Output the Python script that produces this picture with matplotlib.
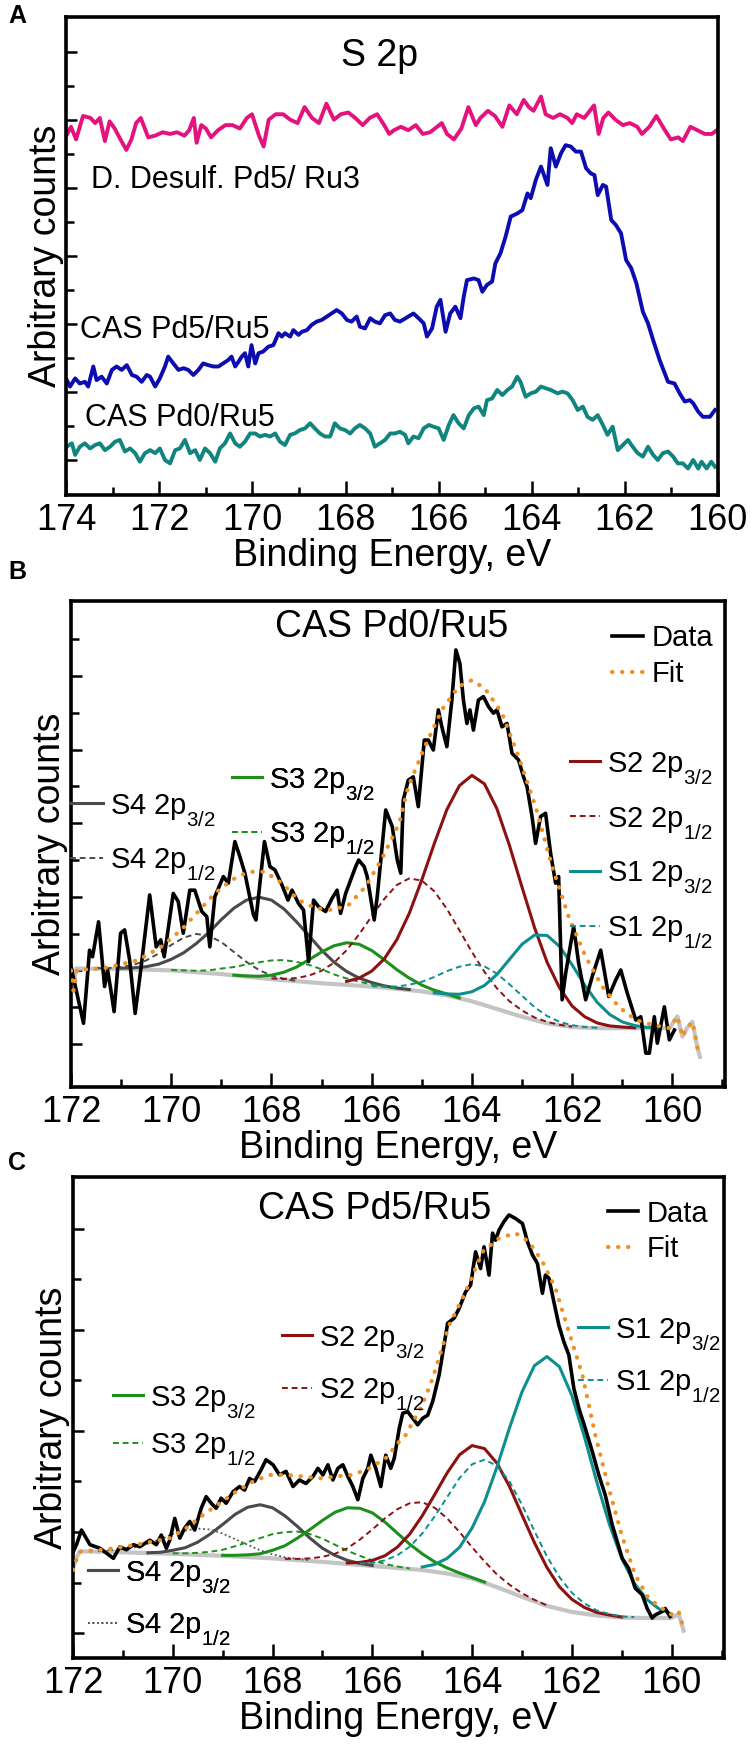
# S 2p XPS panels (A: survey of three samples, B/C: peak fits)
import numpy as np
import matplotlib
matplotlib.use("Agg")
import matplotlib.pyplot as plt
from matplotlib.ticker import MultipleLocator, FixedLocator

plt.rcParams['font.family'] = ['Liberation Sans', 'DejaVu Sans']
plt.rcParams['mathtext.fontset'] = 'custom'
plt.rcParams['mathtext.rm'] = 'Liberation Sans'
plt.rcParams['mathtext.default'] = 'regular'

# subscripts in the original sit lower than mathtext puts them
try:
    import matplotlib._mathtext as _mt
    _mt.FontConstantsBase.sub1 = 0.75
    _mt.FontConstantsBase.subdrop = 0.75
except Exception:
    pass

# ---------------- panel A data (binding energy, counts in tick units) ----------------
pink_e = [174.0, 173.9, 173.79, 173.64, 173.48, 173.38, 173.28, 173.17, 173.07, 172.96,
          172.86, 172.71, 172.60, 172.50, 172.40, 172.24, 172.09, 171.93, 171.77, 171.62,
          171.46, 171.36, 171.26, 171.20, 171.10, 171.00, 170.89, 170.74, 170.58, 170.43,
          170.27, 170.12, 170.01, 169.86, 169.76, 169.65, 169.50, 169.34, 169.19, 169.03,
          168.88, 168.72, 168.57, 168.41, 168.25, 168.10, 167.94, 167.79, 167.63, 167.48,
          167.32, 167.17, 167.06, 166.96, 166.81, 166.65, 166.49, 166.34, 166.18, 166.08,
          165.93, 165.82, 165.67, 165.51, 165.36, 165.20, 165.10, 164.94, 164.79, 164.63,
          164.48, 164.32, 164.17, 164.06, 163.96, 163.80, 163.70, 163.54, 163.39, 163.23,
          163.13, 163.03, 162.87, 162.66, 162.56, 162.46, 162.35, 162.20, 162.04, 161.89,
          161.73, 161.63, 161.47, 161.32, 161.16, 161.01, 160.85, 160.75, 160.59, 160.44,
          160.28, 160.13, 160.02]
pink_y = [9.54, 9.80, 9.43, 10.12, 10.06, 9.91, 10.06, 9.38, 9.96, 9.75,
          9.49, 9.12, 9.43, 9.91, 10.06, 9.49, 9.54, 9.64, 9.59, 9.64,
          9.54, 9.70, 10.06, 9.33, 9.85, 9.75, 9.49, 9.70, 9.85, 9.85,
          9.75, 10.06, 10.17, 9.54, 9.22, 10.01, 10.17, 10.17, 10.01, 9.91,
          10.38, 10.06, 9.91, 10.48, 10.01, 10.17, 10.22, 10.06, 9.85, 10.06,
          10.17, 9.85, 9.59, 9.70, 9.80, 9.70, 9.85, 9.59, 9.64, 9.75,
          9.91, 9.59, 9.43, 9.75, 10.38, 9.85, 10.06, 10.27, 10.12, 9.80,
          10.43, 10.17, 10.59, 10.38, 10.27, 10.69, 10.17, 10.06, 10.17, 10.06,
          9.91, 10.17, 10.06, 10.43, 9.59, 10.06, 10.22, 10.01, 9.85, 9.91,
          9.80, 9.59, 9.80, 10.12, 9.75, 9.43, 9.49, 9.38, 9.80, 9.70,
          9.59, 9.59, 9.70]

blue_e = [173.99, 173.92, 173.81, 173.71, 173.60, 173.53, 173.42, 173.35, 173.24, 173.13,
          173.02, 172.92, 172.81, 172.70, 172.59, 172.49, 172.38, 172.27, 172.20, 172.09,
          171.99, 171.88, 171.81, 171.70, 171.59, 171.48, 171.38, 171.27, 171.16, 171.06,
          170.95, 170.84, 170.73, 170.63, 170.52, 170.45, 170.37, 170.30, 170.23, 170.16,
          170.09, 170.02, 169.94, 169.87, 169.77, 169.66, 169.55, 169.44, 169.37, 169.30,
          169.19, 169.12, 169.01, 168.94, 168.83, 168.73, 168.62, 168.51, 168.40, 168.30,
          168.19, 168.08, 167.97, 167.87, 167.76, 167.69, 167.58, 167.47, 167.37, 167.26,
          167.15, 167.04, 166.94, 166.83,
          166.65, 166.54, 166.43, 166.32, 166.25, 166.14, 166.04, 165.96, 165.85, 165.75,
          165.64, 165.53, 165.46, 165.39, 165.24, 165.14, 165.06, 164.96, 164.85, 164.78,
          164.67, 164.56, 164.45, 164.31, 164.20, 164.09, 164.02, 163.91, 163.80, 163.66,
          163.59, 163.48, 163.37, 163.27, 163.16, 163.05, 162.94, 162.83, 162.73, 162.65,
          162.58, 162.47, 162.40, 162.29, 162.19, 162.08, 161.97, 161.86, 161.75, 161.61,
          161.50, 161.39, 161.25, 161.14, 161.07, 160.93, 160.82, 160.71, 160.60, 160.53,
          160.42, 160.32, 160.17, 160.06]
blue_y = [2.35, 2.16, 2.40, 2.25, 2.30, 2.16, 2.75, 2.35, 2.45, 2.25,
          2.65, 2.75, 2.65, 2.79, 2.50, 2.45, 2.30, 2.50, 2.45, 2.16,
          2.40, 2.75, 3.04, 2.84, 2.65, 2.70, 2.65, 2.50, 2.65, 2.84,
          2.79, 2.75, 2.75, 2.84, 2.94, 3.04, 2.75, 2.89, 3.04, 3.14,
          2.75, 3.38, 2.84, 3.14, 3.19, 3.33, 3.38, 3.73, 3.63, 3.73,
          3.63, 3.82, 3.68, 3.77, 3.82, 3.97, 4.07, 4.12, 4.22, 4.31,
          4.41, 4.31, 4.12, 4.07, 4.22, 3.92, 3.87, 4.17, 4.07, 4.02,
          4.26, 4.31, 4.12, 4.07,
          4.22, 4.31, 4.17, 4.02, 3.63, 3.87, 4.51, 4.71, 3.77, 4.31,
          4.51, 4.17, 4.80, 5.29, 5.34, 5.29, 4.95, 5.15, 5.25, 5.78,
          6.08, 6.57, 7.16, 7.25, 7.35, 7.84, 7.70, 8.24, 8.63, 8.09,
          9.17, 8.63, 9.02, 9.26, 9.22, 9.07, 9.07, 8.58, 8.43, 8.38,
          7.79, 8.09, 8.04, 7.06, 6.91, 6.67, 5.88, 5.64, 5.20, 4.36,
          4.02, 3.53, 2.94, 2.55, 2.30, 2.25, 1.96, 1.72, 1.76, 1.67,
          1.42, 1.27, 1.27, 1.47]

teal_e = [173.99, 173.88, 173.81, 173.71, 173.60, 173.49, 173.38, 173.28, 173.17, 173.06,
          172.95, 172.85, 172.74, 172.63, 172.52, 172.42, 172.31, 172.20, 172.09, 171.99,
          171.88, 171.77, 171.66, 171.56, 171.45, 171.34, 171.23, 171.13, 171.02, 170.91,
          170.80, 170.70, 170.59, 170.48, 170.37, 170.27, 170.16, 170.05, 169.94, 169.84,
          169.73, 169.62, 169.51, 169.41, 169.30, 169.19, 169.09, 168.98, 168.87, 168.76,
          168.66, 168.55, 168.44, 168.33, 168.23, 168.12, 168.01, 167.90, 167.80, 167.69,
          167.58, 167.47, 167.37, 167.26, 167.15, 167.04, 166.94, 166.83, 166.72,
          166.65, 166.54, 166.43, 166.32, 166.21, 166.11, 166.00, 165.89, 165.78, 165.68,
          165.57, 165.46, 165.35, 165.24, 165.14, 165.03, 164.96, 164.85, 164.74, 164.63,
          164.52, 164.42, 164.31, 164.24, 164.13, 164.02, 163.91, 163.80, 163.70, 163.59,
          163.44, 163.34, 163.23, 163.12, 163.01, 162.90, 162.80, 162.69, 162.58, 162.47,
          162.37, 162.26, 162.15, 162.04, 161.93, 161.83, 161.72, 161.61, 161.50, 161.39,
          161.29, 161.18, 161.07, 160.96, 160.86, 160.75, 160.64, 160.53, 160.42, 160.35,
          160.24, 160.14, 160.06]
teal_y = [0.39, 0.49, 0.15, 0.39, 0.49, 0.34, 0.44, 0.49, 0.29, 0.39,
          0.54, 0.59, 0.25, 0.34, 0.20, -0.05, 0.20, 0.29, 0.20, 0.34,
          0.00, -0.10, 0.29, 0.34, 0.59, 0.20, 0.29, 0.00, 0.34, 0.20,
          -0.05, 0.34, 0.49, 0.78, 0.49, 0.39, 0.54, 0.78, 0.78, 0.69,
          0.74, 0.69, 0.78, 0.54, 0.44, 0.74, 0.78, 0.88, 0.93, 1.08,
          0.93, 0.78, 0.69, 0.69, 1.08, 0.93, 0.88, 0.78, 0.93, 1.03,
          0.93, 0.78, 0.39, 0.49, 0.59, 0.78, 0.78, 0.83, 0.74,
          0.49, 0.69, 0.64, 0.93, 1.03, 0.98, 0.93, 0.59, 1.03, 1.32,
          1.08, 0.93, 1.32, 1.52, 1.57, 1.32, 1.76, 1.81, 2.06, 1.91,
          2.06, 2.16, 2.45, 2.30, 1.86, 1.96, 2.01, 2.16, 2.11, 2.06,
          1.96, 2.01, 1.96, 1.76, 1.47, 1.57, 1.27, 1.18, 1.32, 1.03,
          0.74, 0.98, 0.29, 0.44, 0.59, 0.39, 0.20, 0.10, 0.39, 0.15,
          0.00, 0.20, 0.25, 0.10, -0.10, -0.10, -0.25, 0.00, -0.25, -0.05,
          -0.25, -0.05, -0.20]

# ---------------- panel B (CAS Pd0/Ru5) ----------------
data_b_e = [172.00, 171.75, 171.63, 171.57, 171.45, 171.33, 171.27, 171.21, 171.14, 171.01,
            170.93, 170.83, 170.72, 170.60, 170.43, 170.30, 170.21, 170.14, 169.96, 169.86,
            169.76, 169.63, 169.53, 169.39, 169.29, 169.23, 169.13, 168.96, 168.86, 168.73,
            168.63, 168.53, 168.36, 168.31, 168.14, 168.03, 167.93, 167.79, 167.67, 167.59,
            167.46, 167.36, 167.26, 167.16, 167.06, 166.92, 166.79, 166.69, 166.62, 166.52,
            166.32, 166.26, 166.15, 166.09, 165.95, 165.89, 165.72, 165.59, 165.49, 165.42,
            165.37, 165.27, 165.17, 165.07, 164.95, 164.87, 164.77, 164.67, 164.60, 164.50,
            164.40, 164.32, 164.24, 164.17, 164.10, 164.04, 163.97, 163.87, 163.77, 163.67,
            163.57, 163.50, 163.40, 163.30, 163.20, 163.07, 162.97, 162.90, 162.80, 162.73,
            162.63, 162.53, 162.43, 162.33, 162.27, 162.20, 162.13, 161.97, 161.87, 161.73,
            161.60, 161.43, 161.27, 161.13, 161.03, 160.90, 160.73, 160.63, 160.53, 160.46,
            160.36, 160.30, 160.16, 160.06, 159.96]
data_b_y = [2.10, 0.56, 2.55, 2.37, 3.32, 1.56, 2.01, 1.51, 0.88, 3.01,
            3.10, 2.28, 0.83, 2.10, 4.05, 2.64, 2.83, 2.37, 4.09, 3.87,
            3.01, 4.18, 4.18, 3.60, 3.46, 2.64, 4.00, 4.55, 4.37, 5.50,
            5.09, 4.64, 3.51, 3.37, 5.50, 4.82, 4.73, 4.32, 3.91, 4.18,
            3.82, 3.64, 2.24, 3.91, 3.73, 3.60, 3.96, 4.18, 3.55, 4.09,
            4.82, 5.00, 4.82, 4.55, 3.37, 4.00, 6.36, 5.91, 5.00, 4.64,
            6.63, 7.17, 7.26, 6.45, 8.26, 8.26, 7.99, 9.08, 8.62, 8.08,
            9.35, 10.71, 10.34, 9.35, 8.71, 9.08, 8.53, 9.35, 9.44, 9.17,
            8.99, 9.08, 8.62, 8.71, 7.90, 7.72, 7.26, 6.99, 6.18, 5.45,
            6.18, 6.27, 5.18, 4.37, 4.55, 1.20, 1.92, 3.19, 2.19, 1.20,
            1.83, 2.55, 1.29, 1.74, 2.01, 1.38, 0.65, 0.74, -0.25, -0.25,
            0.74, 0.02, 1.01, 0.11, 0.38]

fit_b_e = [172.0, 171.95, 171.88, 171.33, 170.66, 170.2, 169.8, 169.46, 169.13, 168.79,
           168.46, 168.13, 167.79, 167.46, 167.12, 166.79, 166.46, 166.12, 165.79, 165.45,
           165.27, 164.94, 164.6, 164.27, 164.0, 163.74, 163.4, 163.07, 162.73, 162.4,
           162.07, 161.73, 161.4, 161.07, 160.73, 160.4, 160.06, 159.9, 159.8, 159.7,
           159.6, 159.5, 159.45]
fit_b_y = [2.0, 1.45, 2.01, 2.06, 2.28, 2.64, 3.10, 3.60, 4.09, 4.46,
           4.68, 4.68, 4.37, 3.91, 3.69, 3.64, 3.78, 4.28, 5.05, 6.00,
           6.99, 8.08, 9.08, 9.71, 9.89, 9.66, 8.99, 7.81, 6.45, 4.82,
           3.46, 2.37, 1.56, 1.01, 0.65, 0.52, 0.43, 0.75, 0.20, 0.45,
           0.60, -0.10, -0.35]

bg_b_e = [172.0, 171.95, 171.9, 171.0, 170.0, 169.0, 168.0, 167.0, 166.0, 165.5,
          165.0, 164.5, 164.0, 163.5, 163.0, 162.5, 162.0, 161.5, 161.0, 160.5,
          160.06, 159.9, 159.8, 159.7, 159.6, 159.5, 159.45]
bg_b_y = [2.0, 1.45, 2.05, 2.04, 2.0, 1.9, 1.76, 1.65, 1.56, 1.5,
          1.43, 1.32, 1.16, 0.95, 0.74, 0.56, 0.46, 0.43, 0.43, 0.43,
          0.43, 0.75, 0.20, 0.45, 0.60, -0.10, -0.35]

# background on the 0.25 eV component grid (172 -> 160)
base_b = [2.06, 2.05, 2.05, 2.04, 2.04, 2.03, 2.02, 2.01, 2.00, 1.98,
          1.95, 1.92, 1.90, 1.86, 1.83, 1.79, 1.76, 1.73, 1.70, 1.68,
          1.65, 1.62, 1.60, 1.58, 1.56, 1.53, 1.50, 1.47, 1.43, 1.38,
          1.32, 1.24, 1.16, 1.06, 0.95, 0.84, 0.74, 0.64, 0.56, 0.50,
          0.46, 0.44, 0.43, 0.43, 0.43, 0.43, 0.43, 0.43, 0.43]

# component heights above background, first value at the given energy, 0.25 eV steps
s1_32_b_start, s1_32_b = 164.75, [0.01, 0.04, 0.11, 0.26, 0.53, 0.94, 1.46, 1.97, 2.32, 2.39,
                                  2.15, 1.69, 1.16, 0.70, 0.37, 0.17, 0.07, 0.02, 0.01]
s1_12_b_start, s1_12_b = 166.0, [0.01, 0.03, 0.06, 0.14, 0.26, 0.44, 0.66, 0.86, 1.01, 1.05,
                                 0.96, 0.78, 0.57, 0.36, 0.20, 0.10, 0.05, 0.02, 0.01]
s2_32_b_start, s2_32_b = 166.5, [0.10, 0.21, 0.42, 0.78, 1.33, 2.08, 3.03, 4.07, 5.05, 5.78,
                                 6.14, 6.01, 5.44, 4.55, 3.52, 2.52, 1.66, 1.02, 0.57, 0.30,
                                 0.14, 0.06, 0.03, 0.01]
s2_12_b_start, s2_12_b = 168.0, [0.02, 0.04, 0.09, 0.18, 0.34, 0.59, 0.95, 1.40, 1.91, 2.41,
                                 2.82, 3.03, 3.01, 2.77, 2.35, 1.85, 1.34, 0.90, 0.56, 0.32,
                                 0.17, 0.08, 0.04, 0.02, 0.01]
s3_32_b_start, s3_32_b = 168.75, [0.01, 0.02, 0.05, 0.11, 0.22, 0.39, 0.61, 0.85, 1.05, 1.15,
                                  1.13, 0.98, 0.76, 0.52, 0.32, 0.17, 0.08, 0.04, 0.01]
s3_12_b_start, s3_12_b = 170.0, [0.01, 0.02, 0.04, 0.08, 0.15, 0.23, 0.33, 0.43, 0.51, 0.55,
                                 0.53, 0.47, 0.38, 0.27, 0.18, 0.11, 0.06, 0.03, 0.01]
s4_32_b_start, s4_32_b = 171.0, [0.02, 0.04, 0.08, 0.16, 0.30, 0.50, 0.78, 1.11, 1.48, 1.83,
                                 2.08, 2.20, 2.15, 1.94, 1.62, 1.26, 0.90, 0.60, 0.37, 0.21,
                                 0.11, 0.05, 0.02, 0.01]
s4_12_b_start, s4_12_b = 171.5, [0.01, 0.02, 0.05, 0.12, 0.25, 0.45, 0.69, 0.91, 1.04, 1.02,
                                 0.87, 0.64, 0.40, 0.22, 0.10, 0.04, 0.01]

# ---------------- panel C (CAS Pd5/Ru5) ----------------
data_c_e = [172.00, 171.93, 171.83, 171.66, 171.46, 171.19, 171.06, 170.93, 170.79, 170.66,
            170.46, 170.33, 170.23, 170.13, 170.06, 169.96, 169.86, 169.76, 169.66, 169.56,
            169.43, 169.33, 169.23, 169.13, 169.03, 168.93, 168.79, 168.66, 168.56, 168.46,
            168.36, 168.23, 168.13, 167.99, 167.86, 167.73, 167.59, 167.46, 167.33, 167.19,
            167.09, 166.99, 166.89, 166.79, 166.69, 166.59, 166.49, 166.39, 166.29, 166.19,
            166.09, 166.03, 165.93, 165.83, 165.73, 165.63, 165.56, 165.46, 165.39, 165.29,
            165.19, 165.09, 164.99, 164.89, 164.79, 164.66, 164.49, 164.36, 164.26, 164.13,
            164.03, 163.93, 163.83, 163.76, 163.66, 163.59, 163.53, 163.46, 163.36, 163.26,
            163.13, 162.99, 162.89, 162.79, 162.69, 162.59, 162.53, 162.46, 162.36, 162.26,
            162.16, 162.06, 161.96, 161.86, 161.73, 161.59, 161.46, 161.33, 161.19, 161.09,
            160.99, 160.86, 160.73, 160.59, 160.49, 160.39, 160.33, 160.19, 160.13, 160.03]
data_c_y = [1.60, 1.75, 2.04, 1.75, 1.68, 1.48, 1.71, 1.65, 1.75, 1.71,
            1.84, 1.75, 1.94, 1.68, 1.84, 2.27, 1.88, 2.08, 2.21, 2.04,
            2.47, 2.70, 2.57, 2.47, 2.67, 2.57, 2.80, 2.90, 2.83, 3.06,
            3.00, 3.23, 3.43, 3.33, 3.13, 3.20, 2.90, 3.03, 2.96, 3.10,
            3.26, 3.13, 3.33, 3.03, 3.26, 3.33, 3.10, 2.90, 2.64, 3.06,
            3.26, 3.52, 3.26, 2.90, 3.52, 3.26, 3.46, 4.05, 4.35, 4.38,
            4.25, 4.12, 4.25, 4.31, 4.58, 5.11, 6.13, 6.23, 6.42, 6.75,
            6.88, 7.54, 7.21, 7.64, 7.08, 7.91, 7.77, 7.97, 8.14, 8.27,
            8.20, 8.10, 7.74, 7.48, 7.31, 6.72, 7.08, 7.02, 6.55, 6.09,
            5.76, 5.50, 4.84, 4.45, 4.05, 3.59, 3.13, 2.73, 2.14, 1.81,
            1.48, 1.28, 0.89, 0.76, 0.49, 0.30, 0.36, 0.43, 0.49, 0.33]

fit_c_e = [172.0, 171.93, 171.86, 171.39, 170.73, 170.06, 169.73, 169.39, 169.06, 168.73,
           168.39, 168.06, 167.73, 167.39, 167.06, 166.73, 166.39, 166.06, 165.73, 165.46,
           165.33, 165.0, 164.79, 164.46, 164.13, 163.79, 163.46, 163.13, 162.86, 162.59,
           162.33, 162.06, 161.79, 161.53, 161.26, 161.0, 160.73, 160.46, 160.19, 159.99,
           159.86, 159.79, 159.76]
fit_c_y = [1.25, 1.45, 1.61, 1.65, 1.75, 1.88, 2.08, 2.34, 2.57, 2.80,
           3.00, 3.13, 3.13, 3.10, 3.06, 3.10, 3.13, 3.26, 3.46, 3.79,
           3.92, 4.51, 5.04, 6.09, 6.75, 7.54, 7.81, 7.91, 7.74, 7.35,
           6.82, 5.96, 5.11, 3.92, 2.87, 1.94, 1.15, 0.69, 0.49, 0.36,
           0.43, 0.20, 0.07]

bg_c_e = [172.0, 171.93, 171.86, 171.0, 170.0, 169.0, 168.0, 167.0, 166.0, 165.0,
          164.5, 164.0, 163.5, 163.0, 162.5, 162.0, 161.5, 161.0, 160.5, 160.0,
          159.86, 159.79, 159.76]
bg_c_y = [1.28, 1.50, 1.62, 1.60, 1.57, 1.53, 1.48, 1.41, 1.33, 1.25,
          1.18, 1.08, 0.91, 0.72, 0.54, 0.42, 0.35, 0.31, 0.30, 0.30,
          0.38, 0.15, 0.05]

base_c = [1.62, 1.62, 1.61, 1.61, 1.60, 1.59, 1.58, 1.57, 1.57, 1.56,
          1.55, 1.54, 1.53, 1.52, 1.51, 1.49, 1.48, 1.46, 1.45, 1.43,
          1.41, 1.39, 1.37, 1.35, 1.33, 1.31, 1.29, 1.27, 1.25, 1.22,
          1.18, 1.14, 1.08, 1.00, 0.91, 0.82, 0.72, 0.63, 0.54, 0.47,
          0.42, 0.38, 0.35, 0.33, 0.31, 0.31, 0.30, 0.30, 0.30]

s1_32_c_start, s1_32_c = 165.0, [0.06, 0.14, 0.30, 0.56, 1.00, 1.60, 2.38, 3.24, 4.05, 4.66,
                                 4.93, 4.80, 4.28, 3.51, 2.64, 1.83, 1.17, 0.68, 0.37, 0.18,
                                 0.08]
s1_12_c_start, s1_12_c = 166.25, [0.03, 0.06, 0.13, 0.25, 0.44, 0.72, 1.09, 1.51, 1.93, 2.26,
                                  2.43, 2.40, 2.18, 1.82, 1.39, 0.98, 0.64, 0.38, 0.21, 0.10,
                                  0.05, 0.02, 0.01]
s2_32_c_start, s2_32_c = 166.5, [0.02, 0.05, 0.11, 0.22, 0.41, 0.69, 1.07, 1.52, 1.99, 2.39,
                                 2.63, 2.65, 2.45, 2.08, 1.62, 1.16, 0.76, 0.45, 0.25, 0.13,
                                 0.06, 0.03, 0.01]
s2_12_c_start, s2_12_c = 167.75, [0.01, 0.02, 0.05, 0.10, 0.18, 0.31, 0.50, 0.72, 0.96, 1.16,
                                  1.30, 1.34, 1.26, 1.09, 0.86, 0.62, 0.42, 0.25, 0.14, 0.07,
                                  0.03, 0.01]
s3_32_c_start, s3_32_c = 169.0, [0.01, 0.02, 0.04, 0.08, 0.16, 0.27, 0.43, 0.62, 0.82, 1.00,
                                 1.11, 1.12, 1.05, 0.89, 0.69, 0.49, 0.32, 0.19, 0.11, 0.05,
                                 0.02, 0.01]
s3_12_c_start, s3_12_c = 170.0, [0.01, 0.02, 0.04, 0.07, 0.12, 0.20, 0.29, 0.39, 0.48, 0.54,
                                 0.56, 0.53, 0.46, 0.36, 0.26, 0.18, 0.11, 0.06, 0.03, 0.01]
s4_32_c_start, s4_32_c = 170.5, [0.01, 0.03, 0.07, 0.13, 0.25, 0.42, 0.62, 0.83, 0.98, 1.05,
                                 1.00, 0.86, 0.66, 0.45, 0.27, 0.15, 0.07, 0.03, 0.01]
s4_12_c_start, s4_12_c = 171.5, [0.01, 0.03, 0.06, 0.11, 0.19, 0.29, 0.39, 0.47, 0.52, 0.51,
                                 0.44, 0.34, 0.24, 0.15, 0.08, 0.04, 0.02, 0.01]

# ---------------- style ----------------
PINK = '#e3127d'
BLUE = '#0c0cb0'
TEAL_A = '#10847f'
TEAL = '#0f8e8e'
RED = '#8c1111'
GREEN = '#1c8f1c'
DGRAY = '#4a4a4a'
LGRAY = '#c4c4c4'
ORANGE = '#ee9124'
DOTS = (0, (0.1, 2.3))
DASH = (0, (3.0, 2.0))

W, H = 750, 1754
fig = plt.figure(figsize=(W / 100, H / 100), dpi=100)


def px_axes(left, top, right, bottom):
    return fig.add_axes([left / W, 1 - bottom / H, (right - left) / W, (bottom - top) / H])


def style(ax, xlim, ylim, nticks):
    ax.set_xlim(*xlim)
    ax.set_ylim(*ylim)
    ax.xaxis.set_major_locator(MultipleLocator(2))
    ax.xaxis.set_minor_locator(MultipleLocator(1))
    ax.yaxis.set_major_locator(FixedLocator(list(range(0, nticks, 2))))
    ax.yaxis.set_minor_locator(FixedLocator(list(range(1, nticks, 2))))
    ax.tick_params(which='both', direction='in', top=False, right=False,
                   width=1.8, labelsize=26, pad=6, labelleft=False)
    ax.tick_params(axis='x', which='major', length=10)
    ax.tick_params(axis='x', which='minor', length=6)
    ax.tick_params(axis='y', which='major', length=8)
    ax.tick_params(axis='y', which='minor', length=5.5)
    for s in ax.spines.values():
        s.set_linewidth(2.6)
    ax.set_xlabel('Binding Energy, eV', fontsize=27, labelpad=0)
    ax.set_ylabel('Arbitrary counts', fontsize=27, labelpad=2)


def component(ax, base, start, vals, **kw):
    i0 = int(round((172.0 - start) / 0.25))
    e = 172.0 - 0.25 * np.arange(i0, i0 + len(vals))
    y = np.array(base[i0:i0 + len(vals)]) + np.array(vals)
    return ax.plot(e, y, **kw)[0]


def group(ax, handles, labels, x, y, spacing, hlen, pad=0.25):
    leg = ax.legend(handles, labels, loc='center left',
                    bbox_to_anchor=(x / W, 1 - y / H), bbox_transform=fig.transFigure,
                    frameon=False, fontsize=21, borderpad=0, borderaxespad=0,
                    handlelength=hlen, handletextpad=pad, labelspacing=spacing)
    ax.add_artist(leg)


# ---------------- panel A ----------------
ax_a = px_axes(66.3, 17, 717.8, 495)
ax_a.plot(pink_e, pink_y, color=PINK, lw=2.8)
ax_a.plot(blue_e, blue_y, color=BLUE, lw=2.8)
ax_a.plot(teal_e, teal_y, color=TEAL_A, lw=2.8)
style(ax_a, (174, 160), (-1.03, 13.03), 13)
ax_a.text(167.26, 11.88, 'S 2p', fontsize=27, ha='center', va='center')
ax_a.text(173.47, 8.24, 'D. Desulf. Pd5/ Ru3', fontsize=22, ha='left', va='center')
ax_a.text(173.71, 3.82, 'CAS Pd5/Ru5', fontsize=22, ha='left', va='center')
ax_a.text(173.60, 1.24, 'CAS Pd0/Ru5', fontsize=22, ha='left', va='center')

# ---------------- panels B and C ----------------
panels = [
    dict(box=(71, 601, 725, 1087), ylim=(-1.17, 12.04), nt=12, base=base_b,
         data=(data_b_e, data_b_y), fit=(fit_b_e, fit_b_y), bg=(bg_b_e, bg_b_y),
         comps=[(s4_32_b_start, s4_32_b), (s4_12_b_start, s4_12_b),
                (s3_32_b_start, s3_32_b), (s3_12_b_start, s3_12_b),
                (s2_32_b_start, s2_32_b), (s2_12_b_start, s2_12_b),
                (s1_32_b_start, s1_32_b), (s1_12_b_start, s1_12_b)],
         title='CAS Pd0/Ru5', title_xy=(165.61, 11.33), s4_half='dash'),
    dict(box=(73, 1177, 724, 1658), ylim=(-0.49, 9.02), nt=9, base=base_c,
         data=(data_c_e, data_c_y), fit=(fit_c_e, fit_c_y), bg=(bg_c_e, bg_c_y),
         comps=[(s4_32_c_start, s4_32_c), (s4_12_c_start, s4_12_c),
                (s3_32_c_start, s3_32_c), (s3_12_c_start, s3_12_c),
                (s2_32_c_start, s2_32_c), (s2_12_c_start, s2_12_c),
                (s1_32_c_start, s1_32_c), (s1_12_c_start, s1_12_c)],
         title='CAS Pd5/Ru5', title_xy=(165.96, 8.39), s4_half='dot'),
]

axes = []
for p in panels:
    ax = px_axes(*p['box'])
    ax.plot(*p['bg'], color=LGRAY, lw=3.0, zorder=2)
    cols = [DGRAY, DGRAY, GREEN, GREEN, RED, RED, TEAL, TEAL]
    h = []
    for i, (start, vals) in enumerate(p['comps']):
        if i % 2 == 0:
            kw = dict(color=cols[i], lw=2.2, ls='-')
        elif i == 1 and p['s4_half'] == 'dot':
            kw = dict(color='#555555', lw=1.3, ls=(0, (1, 1.5)))
        else:
            kw = dict(color=cols[i], lw=1.4, ls=DASH)
        h.append(component(ax, p['base'], start, vals, zorder=3, **kw))
    hd = ax.plot(*p['data'], color='black', lw=2.6, zorder=4)[0]
    hf = ax.plot(*p['fit'], color=ORANGE, lw=3.0, ls=DOTS, dash_capstyle='round', zorder=5)[0]
    style(ax, (172, 158.95), p['ylim'], p['nt'])
    ax.text(*p['title_xy'], p['title'], fontsize=27, ha='center', va='center')
    p['handles'] = h + [hd, hf]
    axes.append(ax)

labels = ['S4 2p$_{3/2}$', 'S4 2p$_{1/2}$', 'S3 2p$_{3/2}$', 'S3 2p$_{1/2}$',
          'S2 2p$_{3/2}$', 'S2 2p$_{1/2}$', 'S1 2p$_{3/2}$', 'S1 2p$_{1/2}$']

ax_b, ax_c = axes
hb = panels[0]['handles']
group(ax_b, hb[8:10], ['Data', 'Fit'], 611.7, 656, 0.27, 1.08, 0.3)
group(ax_b, hb[4:8], labels[4:8], 570, 850, 0.65, 1.03)
group(ax_b, hb[0:2], labels[0:2], 70, 837, 0.65, 1.13)
group(ax_b, hb[2:4], labels[2:4], 231.7, 811, 0.65, 1.03)

hc = panels[1]['handles']
group(ax_c, hc[8:10], ['Data', 'Fit'], 608, 1231.5, 0.27, 1.03, 0.3)
group(ax_c, hc[6:8], labels[6:8], 578, 1360, 0.57, 1.03)
group(ax_c, hc[4:6], labels[4:6], 281.7, 1368, 0.57, 1.03)
group(ax_c, hc[2:4], labels[2:4], 113, 1425.5, 0.4, 1.03)
group(ax_c, hc[0:2], labels[0:2], 88, 1603, 0.57, 1.03)

for letter, y in [('A', 16), ('B', 572), ('C', 1163)]:
    fig.text(17 / W, 1 - y / H, letter, fontsize=18, fontweight='bold', ha='center', va='center')

fig.savefig('out.png', dpi=100)
